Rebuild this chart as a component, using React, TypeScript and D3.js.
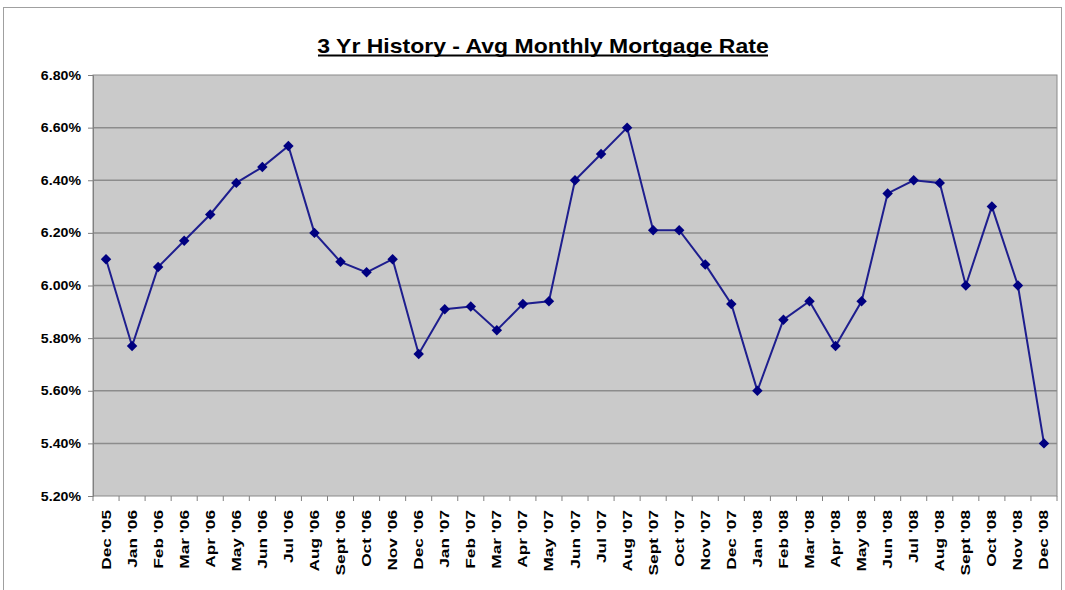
import React, { useEffect, useRef } from "react";
import * as d3 from "d3";

const months = [
  "Dec '05", "Jan '06", "Feb '06", "Mar '06", "Apr '06", "May '06", "Jun '06",
  "Jul '06", "Aug '06", "Sept '06", "Oct '06", "Nov '06", "Dec '06", "Jan '07",
  "Feb '07", "Mar '07", "Apr '07", "May '07", "Jun '07", "Jul '07", "Aug '07",
  "Sept '07", "Oct '07", "Nov '07", "Dec '07", "Jan '08", "Feb '08", "Mar '08",
  "Apr '08", "May '08", "Jun '08", "Jul '08", "Aug '08", "Sept '08", "Oct '08",
  "Nov '08", "Dec '08",
];

const rates = [
  6.1, 5.77, 6.07, 6.17, 6.27, 6.39, 6.45, 6.53, 6.2, 6.09, 6.05, 6.1, 5.74,
  5.91, 5.92, 5.83, 5.93, 5.94, 6.4, 6.5, 6.6, 6.21, 6.21, 6.08, 5.93, 5.6,
  5.87, 5.94, 5.77, 5.94, 6.35, 6.4, 6.39, 6.0, 6.3, 6.0, 5.4,
];

const yTicks = [5.2, 5.4, 5.6, 5.8, 6.0, 6.2, 6.4, 6.6, 6.8];

const FONT = "Liberation Sans, Arial, sans-serif";

function App() {
  const ref = useRef<SVGSVGElement>(null);

  useEffect(() => {
    const svg = d3.select(ref.current);
    svg.selectAll("*").remove();

    const left = 93,
      right = 1057,
      top = 75,
      bottom = 496;

    svg
      .append("rect")
      .attr("x", 3.5)
      .attr("y", 7.5)
      .attr("width", 1058)
      .attr("height", 600)
      .attr("fill", "#fff")
      .attr("stroke", "#a0a0a0");

    var x = d3.scaleBand().domain(months).range([left, right]);
    var y = d3.scaleLinear().domain([5.2, 6.8]).range([bottom, top]);

    svg
      .append("rect")
      .attr("x", left)
      .attr("y", top)
      .attr("width", right - left)
      .attr("height", bottom - top)
      .attr("fill", "#cacaca")
      .attr("stroke", "#8a8a8a");

    svg
      .append("g")
      .selectAll("line")
      .data(yTicks.slice(1, -1))
      .enter()
      .append("line")
      .attr("x1", left)
      .attr("x2", right)
      .attr("y1", (d) => y(d))
      .attr("y2", (d) => y(d))
      .attr("stroke", "#8c8c8c")
      .attr("stroke-width", 1.5);

    // y axis ticks + labels
    var yAxis = d3.axisLeft(y).tickValues(yTicks).tickSize(5).tickFormat(() => "");
    svg
      .append("g")
      .attr("transform", "translate(" + left + ",0)")
      .call(yAxis)
      .call((g) => g.selectAll("path,line").attr("stroke", "#808080"));

    svg
      .append("g")
      .selectAll("text")
      .data(yTicks)
      .enter()
      .append("text")
      .attr("transform", (d) => "translate(81," + (y(d) + 4.5) + ") scale(1.09,1)")
      .attr("text-anchor", "end")
      .attr("font-family", FONT)
      .attr("font-size", 13)
      .attr("font-weight", "bold")
      .text((d) => d.toFixed(2) + "%");

    // x axis: ticks between categories
    svg
      .append("g")
      .selectAll("line")
      .data(months.concat(["end"]))
      .enter()
      .append("line")
      .attr("x1", (d, i) => left + i * x.step())
      .attr("x2", (d, i) => left + i * x.step())
      .attr("y1", bottom)
      .attr("y2", bottom + 5)
      .attr("stroke", "#808080");

    svg
      .append("g")
      .selectAll("text")
      .data(months)
      .enter()
      .append("text")
      .attr(
        "transform",
        (d) =>
          "translate(" +
          (x(d)! + x.bandwidth() / 2 + 4.5) +
          "," +
          (bottom + 14) +
          ") rotate(-90) scale(1.38,1)"
      )
      .attr("text-anchor", "end")
      .attr("font-family", FONT)
      .attr("font-size", 12.5)
      .attr("font-weight", "bold")
      .text((d) => d);

    var line = d3
      .line<number>()
      .x((d, i) => x(months[i])! + x.bandwidth() / 2)
      .y((d) => y(d));

    svg
      .append("path")
      .attr("d", line(rates))
      .attr("fill", "none")
      .attr("stroke", "#1e1e8e")
      .attr("stroke-width", 2);

    svg
      .append("g")
      .selectAll("path")
      .data(rates)
      .enter()
      .append("path")
      .attr("d", d3.symbol().type(d3.symbolDiamond2).size(70)())
      .attr(
        "transform",
        (d, i) => "translate(" + (x(months[i])! + x.bandwidth() / 2) + "," + y(d) + ")"
      )
      .attr("fill", "#000080");

    // title
    var title = svg
      .append("g")
      .attr("transform", "translate(543,53) scale(1.095,1)");
    title
      .append("text")
      .attr("text-anchor", "middle")
      .attr("font-family", FONT)
      .attr("font-size", 21)
      .attr("font-weight", "bold")
      .text("3 Yr History - Avg Monthly Mortgage Rate");
    title
      .append("line")
      .attr("x1", -205.5)
      .attr("x2", 205.5)
      .attr("y1", 2.5)
      .attr("y2", 2.5)
      .attr("stroke", "#000")
      .attr("stroke-width", 2);
  }, []);

  return (
    <div style={{ position: "absolute", left: 0, top: 0 }}>
      <svg ref={ref} width={1065} height={590}></svg>
    </div>
  );
}

export default App;
